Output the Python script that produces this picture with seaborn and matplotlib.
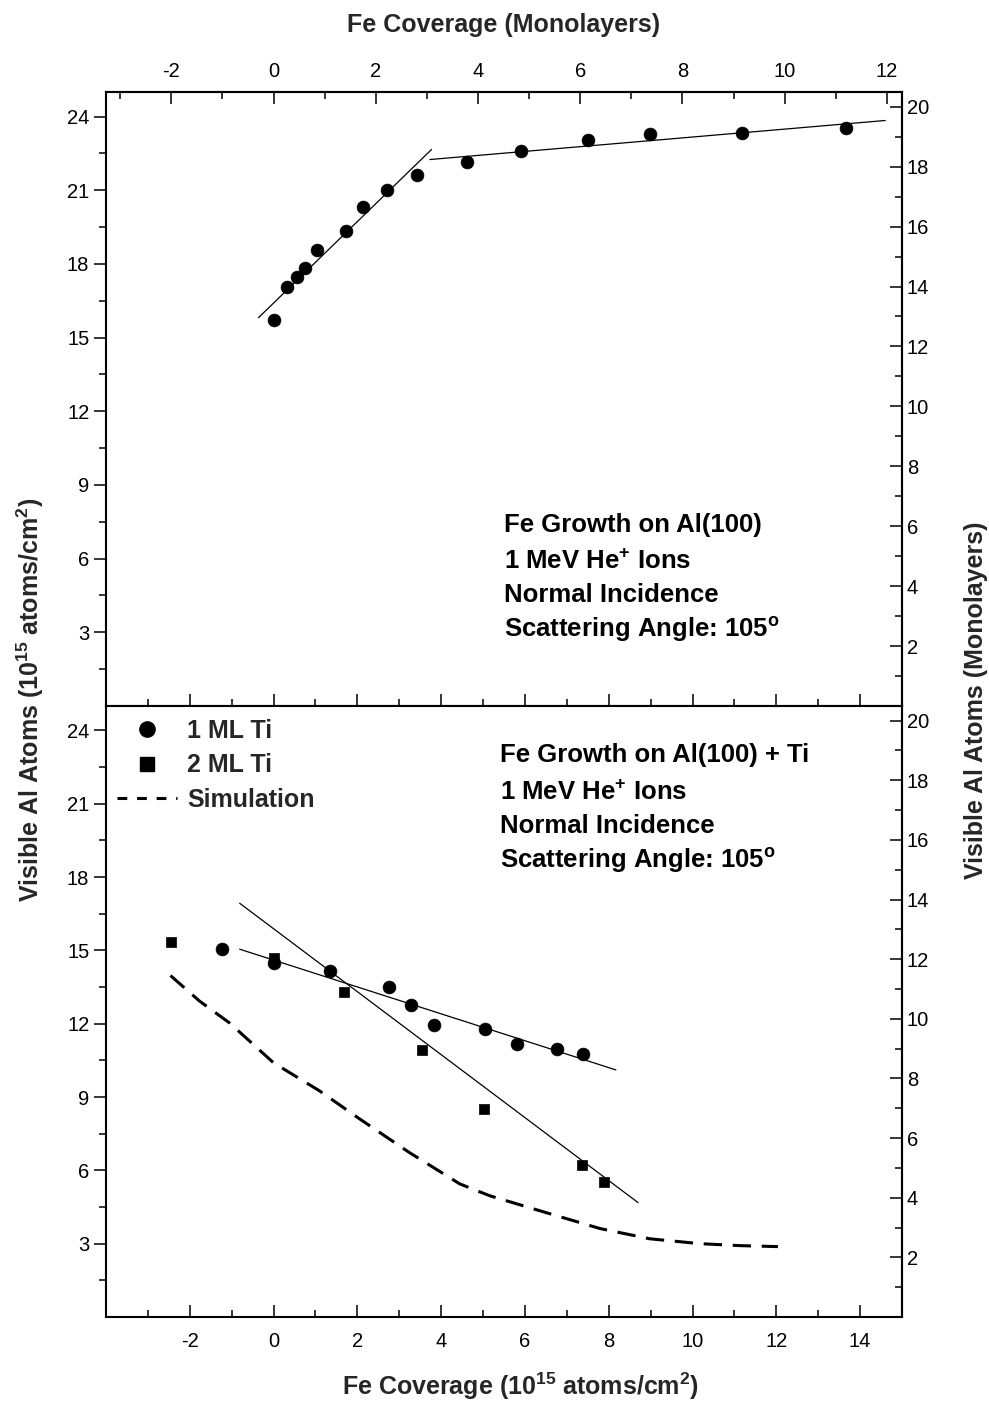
import numpy as np
import pandas as pd
import matplotlib
matplotlib.use("Agg")
import matplotlib.pyplot as plt
from matplotlib.ticker import MultipleLocator, FixedLocator
from matplotlib.lines import Line2D
import seaborn as sns

# ---------------- data ----------------
ML = 1.22  # 1 monolayer = 1.22e15 atoms/cm^2

# top panel: Fe on Al(100)
top_x = [0.0, 0.33, 0.55, 0.74, 1.03, 1.72, 2.13, 2.70, 3.42, 4.61, 5.90, 7.50, 8.98, 11.18, 13.66]
top_y = [15.73, 17.07, 17.48, 17.85, 18.58, 19.36, 20.30, 21.03, 21.64, 22.13, 22.58, 23.03, 23.27, 23.35, 23.52]
top_fit1_x = [-0.36, 3.77]
top_fit1_y = [15.81, 22.66]
top_fit2_x = [3.73, 14.6]
top_fit2_y = [22.25, 23.84]

# bottom panel: Fe on Al(100) + Ti
ml1_x = [-1.24, 0.0, 1.34, 2.75, 3.27, 3.82, 5.04, 5.81, 6.76, 7.38]
ml1_y = [15.05, 14.48, 14.15, 13.50, 12.77, 11.95, 11.79, 11.17, 10.97, 10.76]
ml2_x = [-2.46, 0.0, 1.67, 3.54, 5.02, 7.36, 7.88]
ml2_y = [15.34, 14.70, 13.30, 10.93, 8.52, 6.23, 5.53]
fit1_x = [-0.81, 8.17]
fit1_y = [15.05, 10.11]
fit2_x = [-0.81, 8.70]
fit2_y = [16.93, 4.68]
sim_x = [-2.46, -1.77, -1.05, 0.0, 1.10, 2.05, 3.25, 4.44, 5.16, 6.35, 7.79, 8.98, 10.18, 11.13, 12.04]
sim_y = [13.97, 12.93, 12.03, 10.40, 9.25, 8.11, 6.72, 5.45, 4.96, 4.35, 3.62, 3.20, 3.00, 2.92, 2.88]

x_major = [-2, 0, 2, 4, 6, 8, 10, 12, 14]
y_major = [3, 6, 9, 12, 15, 18, 21, 24]
ml_x_major = [-2, 0, 2, 4, 6, 8, 10, 12]
ml_y_major = [2, 4, 6, 8, 10, 12, 14, 16, 18, 20]

# ---------------- style ----------------
sns.set_theme(style="white")
plt.rcParams["font.family"] = ["Liberation Sans", "DejaVu Sans"]
plt.rcParams["mathtext.fontset"] = "custom"
plt.rcParams["mathtext.rm"] = "Liberation Sans"
plt.rcParams["mathtext.bf"] = "Liberation Sans:bold"
plt.rcParams["mathtext.it"] = "Liberation Sans:italic"
plt.rcParams["axes.unicode_minus"] = False
plt.rcParams["axes.linewidth"] = 1.5

TICK_FS = 14.5
LAB_FS = 18
ANN_FS = 18.5
MAJ_LEN, MIN_LEN, TW = 8.5, 5, 1.1

fig = plt.figure(figsize=(9.89, 14.06), dpi=100)
L, W = 106 / 989, (902 - 106) / 989
ax1 = fig.add_axes([L, 1 - 706 / 1406, W, (706 - 92) / 1406])
ax2 = fig.add_axes([L, 1 - 1317 / 1406, W, (1317 - 706) / 1406])

for ax in (ax1, ax2):
    ax.set_xlim(-4, 15)
    ax.set_ylim(0, 25)
    for s in ax.spines.values():
        s.set_color("black")
        s.set_linewidth(1.5)
    ax.set_xticks(x_major)
    ax.xaxis.set_minor_locator(MultipleLocator(1))
    ax.set_yticks(y_major)
    ax.yaxis.set_minor_locator(FixedLocator(np.arange(1.5, 25, 3)))
    ax.tick_params(axis="y", which="both", direction="out", left=True, right=False,
                   colors="black", labelsize=TICK_FS, width=TW)
    ax.tick_params(axis="y", which="major", length=MAJ_LEN)
    ax.tick_params(axis="y", which="minor", length=MIN_LEN)
    ax.tick_params(axis="x", which="both", direction="in", bottom=True, top=False,
                   colors="black", labelsize=TICK_FS, width=TW)
    ax.tick_params(axis="x", which="major", length=MAJ_LEN, pad=11)
    ax.tick_params(axis="x", which="minor", length=MIN_LEN)
    ax.set_xlabel("")
    ax.set_ylabel("")
    # right monolayer axis
    sy = ax.secondary_yaxis("right", functions=(lambda y: y / ML, lambda m: m * ML))
    sy.set_yticks(ml_y_major)
    sy.yaxis.set_minor_locator(MultipleLocator(1))
    sy.tick_params(which="both", direction="in", colors="black", labelsize=TICK_FS, width=TW)
    sy.tick_params(which="major", length=MAJ_LEN)
    sy.tick_params(which="minor", length=MIN_LEN)
    sy.spines["right"].set_linewidth(1.5)

ax1.tick_params(axis="x", labelbottom=False)

# top monolayer axis
sx = ax1.secondary_xaxis("top", functions=(lambda x: x / ML, lambda m: m * ML))
sx.set_xticks(ml_x_major)
sx.xaxis.set_minor_locator(MultipleLocator(1))
sx.tick_params(which="both", direction="in", colors="black", labelsize=TICK_FS, width=TW)
sx.tick_params(which="major", length=MAJ_LEN, pad=8)
sx.tick_params(which="minor", length=MIN_LEN)
sx.spines["top"].set_linewidth(1.5)

# ---------------- top panel ----------------
sns.lineplot(x=top_fit1_x, y=top_fit1_y, ax=ax1, color="black", lw=0.9, estimator=None, sort=False)
sns.lineplot(x=top_fit2_x, y=top_fit2_y, ax=ax1, color="black", lw=0.9, estimator=None, sort=False)
sns.scatterplot(x=top_x, y=top_y, ax=ax1, marker="o", s=85, color="black", edgecolor="black", linewidth=0.5, zorder=5)

ann_top = ["Fe Growth on Al(100)", "1 MeV He$^{\\mathbf{+}}$ Ions", "Normal Incidence",
           "Scattering Angle: 105$^{\\mathbf{o}}$"]
for txt, yb in zip(ann_top, [532, 569, 602, 637]):
    ax1.text(0.5, (706 - yb) / 614, txt, transform=ax1.transAxes, fontsize=ANN_FS,
             fontweight="bold", va="baseline", ha="left", color="black")

# ---------------- bottom panel ----------------
sns.lineplot(x=fit1_x, y=fit1_y, ax=ax2, color="black", lw=0.9, estimator=None, sort=False)
sns.lineplot(x=fit2_x, y=fit2_y, ax=ax2, color="black", lw=0.9, estimator=None, sort=False)
sns.lineplot(x=sim_x, y=sim_y, ax=ax2, color="black", lw=2.2, estimator=None, sort=False,
             dashes=False, linestyle=(0, (6, 3.5)))
sns.scatterplot(x=ml1_x, y=ml1_y, ax=ax2, marker="o", s=85, color="black", edgecolor="black", linewidth=0.5, zorder=5)
sns.scatterplot(x=ml2_x, y=ml2_y, ax=ax2, marker="s", s=58, color="black", edgecolor="black", linewidth=0.5, zorder=5)

ann_bot = ["Fe Growth on Al(100) + Ti", "1 MeV He$^{\\mathbf{+}}$ Ions", "Normal Incidence",
           "Scattering Angle: 105$^{\\mathbf{o}}$"]
for txt, yb in zip(ann_bot, [762, 800, 833, 868]):
    ax2.text(0.495, (1317 - yb) / 611, txt, transform=ax2.transAxes, fontsize=ANN_FS,
             fontweight="bold", va="baseline", ha="left", color="black")

handles = [
    Line2D([], [], marker="o", ls="none", color="black", markersize=11),
    Line2D([], [], marker="s", ls="none", color="black", markersize=10),
    Line2D([], [], ls=(0, (3.2, 3.2)), color="black", lw=2.2),
]
leg = ax2.legend(handles, ["1 ML Ti", "2 ML Ti", "Simulation"], loc="upper left",
                 bbox_to_anchor=(11 / 796, (1317 - 719) / 611), borderaxespad=0, borderpad=0,
                 frameon=False, handlelength=2.4, handletextpad=0.4, labelspacing=0.42,
                 prop={"weight": "bold", "size": 18})

# ---------------- axis labels ----------------
fig.text(30 / 989, 1 - 700 / 1406, "Visible Al Atoms (10$^{\\mathbf{15}}$ atoms/cm$^{\\mathbf{2}}$)",
         rotation=90, ha="center", va="center", fontsize=LAB_FS, fontweight="bold")
fig.text(976 / 989, 1 - 700 / 1406, "Visible Al Atoms (Monolayers)",
         rotation=90, ha="center", va="center", fontsize=LAB_FS, fontweight="bold")
fig.text(504 / 989, 1 - 25 / 1406, "Fe Coverage (Monolayers)",
         ha="center", va="center", fontsize=LAB_FS, fontweight="bold")
fig.text(521 / 989, 1 - 1386 / 1406, "Fe Coverage (10$^{\\mathbf{15}}$ atoms/cm$^{\\mathbf{2}}$)",
         ha="center", va="center", fontsize=LAB_FS, fontweight="bold")

fig.savefig("out.png", dpi=100)
